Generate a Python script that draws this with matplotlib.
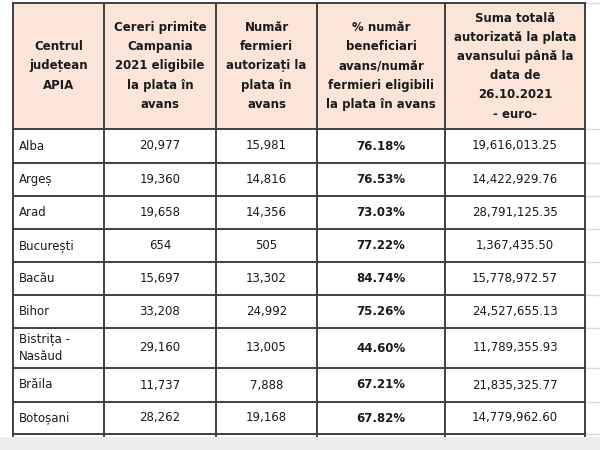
import matplotlib
matplotlib.use("Agg")
import matplotlib.pyplot as plt
from matplotlib.patches import Rectangle

# ---- data ----
headers = [
    "Centrul\njudețean\nAPIA",
    "Cereri primite\nCampania\n2021 eligibile\nla plata în\navans",
    "Număr\nfermieri\nautorizați la\nplata în\navans",
    "% număr\nbeneficiari\navans/număr\nfermieri eligibili\nla plata în avans",
    "Suma totală\nautorizată la plata\navansului până la\ndata de\n26.10.2021\n- euro-",
]
counties = ["Alba", "Argeș", "Arad", "București", "Bacău", "Bihor",
            "Bistrița -\nNasăud", "Brăila", "Botoșani"]
cereri = [20977, 19360, 19658, 654, 15697, 33208, 29160, 11737, 28262]
fermieri = [15981, 14816, 14356, 505, 13302, 24992, 13005, 7888, 19168]
procent = [76.18, 76.53, 73.03, 77.22, 84.74, 75.26, 44.60, 67.21, 67.82]
suma = [19616013.25, 14422929.76, 28791125.35, 1367435.50, 15778972.57,
        24527655.13, 11789355.93, 21835325.77, 14779962.60]

# ---- layout (pixel units) ----
col_edges = [13, 104, 216, 317, 445, 585]
row_edges = [3, 129, 163, 196, 229, 262, 295, 328, 368, 402, 434]
table_bottom = 438
W, H = 600, 450

fig = plt.figure(figsize=(6, 4.5), dpi=100)
ax = fig.add_axes([0, 0, 1, 1])
ax.set_xlim(0, W)
ax.set_ylim(H, 0)
ax.axis("off")

border = "#3f3f3f"
header_bg = "#fbe4d8"
txt = "#1a1a1a"
fs = 8.5

# header background
ax.add_patch(Rectangle((col_edges[0], row_edges[0]), col_edges[-1] - col_edges[0],
                       row_edges[1] - row_edges[0], facecolor=header_bg, edgecolor="none", zorder=1))

# spreadsheet gridlines to the right
for y in row_edges:
    ax.plot([col_edges[-1], W], [y, y], color="#d9d9d9", lw=1, zorder=1)

# horizontal borders
for y in row_edges:
    ax.plot([col_edges[0], col_edges[-1]], [y, y], color=border, lw=1.4, zorder=3)
# vertical borders
for x in col_edges:
    ax.plot([x, x], [row_edges[0], table_bottom], color=border, lw=1.4, zorder=3)

# bottom gray band
ax.add_patch(Rectangle((0, table_bottom - 1), W, H - table_bottom + 1,
                       facecolor="#eeeeee", edgecolor="none", zorder=4))

# header text
hy = (row_edges[0] + row_edges[1]) / 2
for i, h in enumerate(headers):
    cx = (col_edges[i] + col_edges[i + 1]) / 2
    ax.text(cx, hy, h, ha="center", va="center", fontsize=fs, fontweight="bold",
            color=txt, linespacing=1.62, zorder=5, family="DejaVu Sans")

# data rows
for r in range(len(counties)):
    cy = (row_edges[r + 1] + row_edges[r + 2]) / 2
    ax.text(col_edges[0] + 6, cy, counties[r], ha="left", va="center", fontsize=fs,
            color=txt, linespacing=1.45, zorder=5)
    vals = [f"{cereri[r]:,}", f"{fermieri[r]:,}", f"{procent[r]:.2f}%", f"{suma[r]:,.2f}"]
    for j, v in enumerate(vals):
        c = j + 1
        cx = (col_edges[c] + col_edges[c + 1]) / 2
        ax.text(cx, cy, v, ha="center", va="center", fontsize=fs, color=txt,
                fontweight="bold" if c == 3 else "normal", zorder=5)

fig.savefig("out.png", dpi=100)
